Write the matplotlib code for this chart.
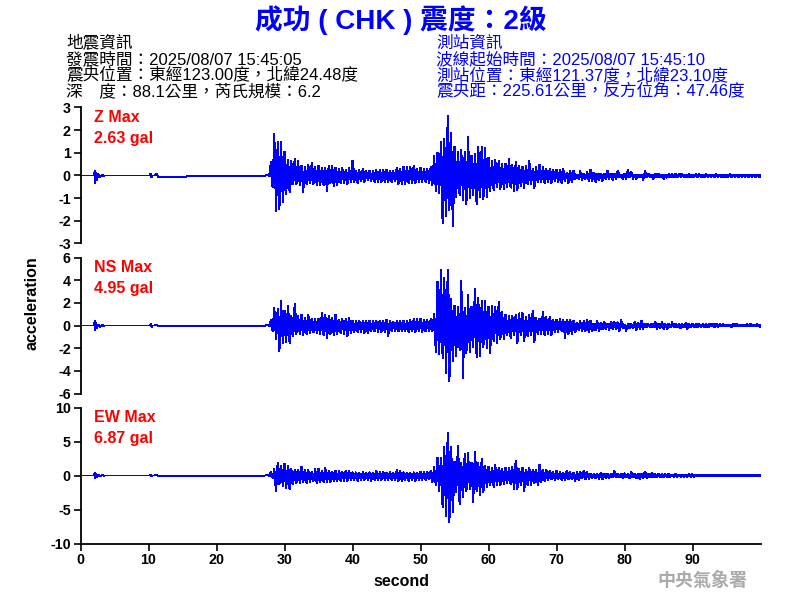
import matplotlib
matplotlib.use('Agg')
import matplotlib.pyplot as plt
import numpy as np

TEXT_FONT = ['Liberation Sans', 'Noto Sans CJK TC', 'DejaVu Sans']
plt.rcParams['font.family'] = TEXT_FONT
plt.rcParams['axes.unicode_minus'] = False

# the quiet part before the P wave, read by eye
early_t = [0, 1.9, 2.1, 2.25, 2.6, 3.3, 3.5, 10.0, 10.3, 10.6, 11.2, 27.0]
z_early_hi = [0, 0, 0.2, 0.15, 0.08, 0.05, 0, 0, 0.08, 0, 0.06, 0]
z_early_lo = [0, 0, -0.35, -0.2, -0.08, -0.05, 0, 0, -0.1, 0, -0.06, 0]
ns_early_hi = [0, 0, 0.4, 0.3, 0.1, 0.05, 0, 0, 0.12, 0, 0.05, 0]
ns_early_lo = [0, 0, -0.45, -0.25, -0.1, -0.05, 0, 0, -0.12, 0, -0.05, 0]
ew_early_hi = [0, 0, 0.4, 0.3, 0.1, 0.05, 0, 0, 0.08, 0, 0.04, 0]
ew_early_lo = [0, 0, -0.4, -0.25, -0.1, -0.05, 0, 0, -0.08, 0, -0.04, 0]

# envelope every 0.5 s from 27.5 s to 100 s, ten values per row
z_hi = [0.02, 0.6, 1.85, 1.5, 1.5, 1.05, 0.7, 0.65, 0.75, 0.65,
        0.45, 0.4, 0.5, 0.55, 0.4, 0.45, 0.35, 0.35, 0.45, 0.45,
        0.35, 0.3, 0.35, 0.25, 0.35, 0.65, 0.2, 0.25, 0.3, 0.2,
        0.2, 0.2, 0.25, 0.25, 0.25, 0.25, 0.2, 0.2, 0.35, 0.3,
        0.4, 0.4, 0.4, 0.45, 0.3, 0.35, 0.3, 0.3, 0.4, 0.9,
        1.0, 1.5, 1.65, 2.63, 1.9, 1.3, 1.05, 1.15, 1.05, 1.7,
        0.9, 0.95, 1.3, 1.3, 1.25, 0.8, 0.65, 0.7, 0.65, 0.55,
        0.55, 0.75, 0.5, 0.6, 0.45, 0.4, 0.45, 0.65, 0.3, 0.4,
        0.5, 0.4, 0.3, 0.3, 0.25, 0.25, 0.25, 0.3, 0.15, 0.2,
        0.2, 0.05, 0.2, 0.1, 0.15, 0.25, 0.15, 0.1, 0.1, 0.1,
        0.2, 0.1, 0.1, 0.2, 0.05, 0.1, 0.25, 0.15, 0.05, 0.05,
        0.05, 0.2, 0.1, 0.05, 0.1, 0.1, 0.05, 0.03, 0.07, 0.07,
        0.07, 0.1, 0.07, 0.05, 0.07, 0.05, 0.07, 0.07, 0.05, 0.07,
        0.05, 0.05, 0.07, 0.05, 0.05, 0.05, 0.07, 0.05, 0.05, 0.05,
        0.05, 0.05, 0.05, 0.05, 0.05, 0.05]
z_lo = [-0.02, -0.55, -1.6, -1.5, -1.2, -0.85, -0.75, -0.4, -0.4, -0.45,
        -0.75, -0.4, -0.35, -0.4, -0.45, -0.45, -0.45, -0.7, -0.35, -0.5,
        -0.45, -0.35, -0.35, -0.4, -0.3, -0.3, -0.35, -0.25, -0.3, -0.2,
        -0.25, -0.3, -0.3, -0.3, -0.3, -0.3, -0.3, -0.25, -0.4, -0.4,
        -0.4, -0.35, -0.35, -0.35, -0.3, -0.3, -0.3, -0.35, -0.45, -0.7,
        -0.8, -2.1, -1.8, -1.55, -2.25, -0.95, -0.9, -1.1, -1.3, -1.0,
        -0.9, -1.3, -0.95, -1.05, -0.95, -0.7, -0.65, -0.55, -0.6, -0.6,
        -0.55, -0.55, -0.7, -0.65, -0.5, -0.55, -0.4, -0.4, -0.55, -0.3,
        -0.3, -0.35, -0.3, -0.35, -0.25, -0.3, -0.35, -0.25, -0.35, -0.3,
        -0.15, -0.15, -0.2, -0.15, -0.25, -0.25, -0.3, -0.2, -0.25, -0.15,
        -0.15, -0.2, -0.15, -0.1, -0.15, -0.15, -0.1, -0.15, -0.15, -0.1,
        -0.2, -0.1, -0.1, -0.15, -0.1, -0.1, -0.15, -0.1, -0.1, -0.1,
        -0.1, -0.07, -0.1, -0.07, -0.1, -0.07, -0.07, -0.1, -0.07, -0.07,
        -0.07, -0.07, -0.07, -0.07, -0.1, -0.07, -0.07, -0.07, -0.07, -0.07,
        -0.07, -0.07, -0.07, -0.07, -0.07, -0.07]

ns_hi = [0.03, 0.5, 1.6, 1.5, 2.2, 1.35, 1.8, 0.9, 1.95, 0.85,
         0.95, 0.7, 1.0, 0.65, 0.6, 0.65, 1.15, 0.95, 0.9, 0.7,
         1.0, 0.5, 0.6, 0.65, 0.7, 0.45, 0.4, 0.45, 0.4, 0.45,
         0.45, 0.45, 0.45, 0.45, 0.4, 0.5, 0.4, 0.35, 0.4, 0.45,
         0.4, 0.45, 0.5, 0.6, 0.6, 0.6, 0.5, 0.5, 0.6, 1.05,
         3.9, 4.9, 4.2, 4.95, 2.4, 1.8, 1.7, 4.0, 1.6, 2.7,
         1.7, 3.3, 2.5, 2.2, 2.2, 1.7, 1.8, 1.7, 2.1, 1.2,
         1.0, 0.85, 0.9, 1.0, 1.1, 1.1, 0.8, 0.95, 1.3, 0.7,
         0.65, 1.25, 0.75, 0.8, 0.5, 0.5, 0.65, 0.5, 0.55, 0.5,
         0.45, 0.25, 0.4, 0.4, 0.5, 0.4, 0.2, 0.4, 0.25, 0.35,
         0.2, 0.35, 0.3, 0.3, 0.5, 0.1, 0.2, 0.15, 0.3, 0.25,
         0.4, 0.2, 0.15, 0.2, 0.35, 0.2, 0.3, 0.15, 0.2, 0.3,
         0.2, 0.15, 0.15, 0.25, 0.15, 0.15, 0.2, 0.15, 0.15, 0.15,
         0.2, 0.2, 0.2, 0.15, 0.15, 0.1, 0.1, 0.15, 0.15, 0.1,
         0.1, 0.15, 0.15, 0.1, 0.15, 0.1]
ns_lo = [-0.03, -0.5, -1.25, -2.3, -1.6, -1.5, -1.6, -0.95, -0.75, -0.8,
         -0.85, -0.8, -0.7, -0.65, -0.7, -0.75, -0.9, -1.15, -0.8, -0.85,
         -0.75, -0.7, -0.8, -0.95, -0.7, -0.6, -0.6, -0.6, -0.7, -0.7,
         -0.55, -0.55, -0.6, -0.6, -0.6, -0.95, -0.5, -0.5, -0.55, -0.55,
         -0.55, -0.6, -0.55, -0.6, -0.5, -0.6, -0.55, -0.55, -0.5, -2.4,
         -2.6, -2.9, -4.2, -4.95, -3.2, -2.7, -2.2, -4.7, -2.5, -2.4,
         -1.9, -2.8, -2.7, -1.9, -2.0, -2.5, -1.4, -1.6, -1.2, -1.2,
         -0.9, -1.1, -0.9, -1.55, -0.85, -1.45, -1.0, -0.9, -1.5, -0.8,
         -0.75, -0.9, -0.75, -0.85, -0.65, -0.6, -0.5, -1.1, -0.8, -0.75,
         -0.65, -0.4, -0.5, -0.5, -0.65, -0.55, -0.45, -0.5, -0.35, -0.35,
         -0.4, -0.3, -0.35, -0.5, -0.25, -0.5, -0.25, -0.25, -0.4, -0.3,
         -0.3, -0.2, -0.2, -0.2, -0.3, -0.25, -0.3, -0.35, -0.2, -0.2,
         -0.2, -0.25, -0.2, -0.3, -0.15, -0.2, -0.15, -0.15, -0.15, -0.2,
         -0.1, -0.15, -0.15, -0.1, -0.1, -0.1, -0.15, -0.1, -0.1, -0.1,
         -0.1, -0.1, -0.1, -0.1, -0.1, -0.1]

ew_hi = [0.05, 0.5, 1.0, 1.9, 1.4, 1.7, 1.5, 1.0, 0.9, 0.9,
         1.3, 0.8, 0.8, 0.6, 0.95, 1.0, 0.7, 1.1, 0.7, 0.6,
         0.7, 0.7, 0.6, 0.7, 0.7, 0.5, 0.5, 0.45, 0.5, 0.45,
         0.5, 0.45, 0.7, 0.5, 0.6, 0.4, 0.5, 0.4, 0.8, 0.7,
         0.5, 0.4, 0.4, 0.5, 0.4, 0.6, 0.5, 0.5, 0.7, 1.3,
         2.7, 2.6, 4.2, 6.3, 4.3, 2.0, 4.4, 1.9, 3.2, 3.4,
         1.9, 3.5, 1.9, 2.5, 1.5, 1.3, 1.1, 1.6, 1.2, 1.0,
         1.2, 1.2, 1.3, 2.2, 1.0, 1.2, 0.9, 1.2, 0.9, 0.8,
         1.6, 0.8, 0.9, 0.7, 0.5, 0.7, 0.5, 0.4, 0.7, 0.5,
         0.4, 0.5, 0.5, 0.7, 0.5, 0.3, 0.3, 0.25, 0.4, 0.3,
         0.3, 0.3, 0.7, 0.2, 0.3, 0.35, 0.3, 0.5, 0.3, 0.3,
         0.25, 0.6, 0.3, 0.4, 0.2, 0.25, 0.3, 0.2, 0.3, 0.15,
         0.25, 0.15, 0.15, 0.15, 0.2, 0.2, 0.15, 0.15, 0.1, 0.15,
         0.1, 0.1, 0.1, 0.1, 0.1, 0.1, 0.1, 0.1, 0.1, 0.1,
         0.1, 0.1, 0.05, 0.1, 0.05, 0.05]
ew_lo = [-0.05, -0.4, -2.4, -1.3, -1.6, -1.9, -2.1, -1.3, -1.2, -1.1,
         -1.0, -1.2, -1.0, -0.9, -1.2, -1.0, -1.0, -1.0, -1.0, -0.9,
         -0.8, -0.8, -0.8, -0.8, -0.7, -0.7, -0.8, -0.7, -0.7, -0.7,
         -0.8, -0.7, -0.7, -0.7, -0.7, -0.7, -0.7, -0.7, -0.8, -0.9,
         -0.7, -0.8, -0.7, -0.8, -0.7, -0.7, -0.7, -0.6, -1.0, -1.5,
         -2.3, -4.7, -6.0, -6.87, -5.4, -2.5, -4.3, -3.2, -2.4, -2.0,
         -4.0, -2.4, -3.0, -2.5, -1.7, -1.5, -1.7, -1.5, -1.5, -1.3,
         -1.2, -1.3, -2.0, -2.0, -1.5, -2.3, -1.5, -1.4, -1.1, -1.4,
         -1.0, -0.9, -0.7, -0.6, -0.7, -0.6, -0.7, -0.7, -0.6, -0.6,
         -0.8, -0.7, -0.4, -0.6, -0.5, -0.4, -0.4, -0.5, -0.6, -0.4,
         -0.4, -0.3, -0.3, -0.3, -0.4, -0.3, -0.4, -0.3, -0.4, -0.5,
         -0.4, -0.4, -0.3, -0.3, -0.3, -0.3, -0.3, -0.3, -0.2, -0.2,
         -0.2, -0.2, -0.2, -0.2, -0.2, -0.2, -0.15, -0.15, -0.15, -0.15,
         -0.1, -0.15, -0.1, -0.15, -0.1, -0.1, -0.1, -0.1, -0.1, -0.1,
         -0.1, -0.1, -0.1, -0.1, -0.1, -0.1]

panels = [
    ('Z Max', '2.63 gal', 3, [3, 2, 1, 0, -1, -2, -3], z_early_hi, z_early_lo, z_hi, z_lo),
    ('NS Max', '4.95 gal', 6, [6, 4, 2, 0, -2, -4, -6], ns_early_hi, ns_early_lo, ns_hi, ns_lo),
    ('EW Max', '6.87 gal', 10, [10, 5, 0, -5, -10], ew_early_hi, ew_early_lo, ew_hi, ew_lo),
]

x_ticks = [0, 10, 20, 30, 40, 50, 60, 70, 80, 90]
title_text = '成功 ( CHK ) 震度：2級'
quake_info = ['地震資訊',
              '發震時間：2025/08/07 15:45:05',
              '震央位置：東經123.00度，北緯24.48度',
              '深　度：88.1公里，芮氏規模：6.2']
station_info = ['測站資訊',
                '波線起始時間：2025/08/07 15:45:10',
                '測站位置：東經121.37度，北緯23.10度',
                '震央距：225.61公里，反方位角：47.46度']

BLUE = '#0000ff'
W, H = 800, 600


def zigzag(t_hi, hi, lo):
    # one up and one down for every envelope sample
    t_hi = np.asarray(t_hi, dtype=float)
    step = np.append(np.diff(t_hi), 0.5)
    tt = np.column_stack([t_hi, t_hi + np.minimum(step, 0.5) / 2]).ravel()
    yy = np.column_stack([hi, lo]).ravel()
    return np.minimum(tt, 99.9), yy


fig = plt.figure(figsize=(W / 100, H / 100), dpi=100, facecolor='white')

tops = [107, 257, 407]
active_t = 27.5 + 0.5 * np.arange(len(z_hi))

for i, (name, peak, lim, ticks, e_hi, e_lo, hi, lo) in enumerate(panels):
    top = tops[i]
    ax = fig.add_axes([80.5 / W, 1 - (top + 136.5) / H, 680 / W, 136 / H])
    t1, y1 = zigzag(early_t, e_hi, e_lo)
    t2, y2 = zigzag(active_t, hi, lo)
    ax.plot(np.r_[t1, t2], np.r_[y1, y2], color=BLUE, lw=0.72, antialiased=False,
            solid_joinstyle='miter', clip_on=False)
    # second pass fills in the solid core of the trace
    t3, y3 = zigzag(active_t + 0.125, np.array(hi) * 0.55, np.array(lo) * 0.55)
    ax.plot(t3, y3, color=BLUE, lw=0.72, antialiased=False, clip_on=False)
    ax.set_xlim(0, 100)
    ax.set_ylim(-lim, lim)
    ax.set_yticks(ticks)
    ax.tick_params(axis='y', length=5, width=1.2, pad=2, labelsize=10.3)
    for lab in ax.get_yticklabels():
        lab.set_fontweight('bold')
    for side in ['top', 'right']:
        ax.spines[side].set_visible(False)
    ax.spines['left'].set_linewidth(1.3)
    if i < 2:
        ax.spines['bottom'].set_visible(False)
        ax.set_xticks([])
    else:
        ax.spines['bottom'].set_linewidth(1.3)
        ax.set_xticks(x_ticks)
        ax.tick_params(axis='x', length=5, width=1.2, pad=1.5, labelsize=10.3)
        for lab in ax.get_xticklabels():
            lab.set_fontweight('bold')
    fig.text(94 / W, 1 - (top + 11) / H, name, color='#ff0000', fontsize=11.5,
             fontweight='bold', va='center')
    fig.text(94 / W, 1 - (top + 31) / H, peak, color='#ff0000', fontsize=11.5,
             fontweight='bold', va='center')

fig.text(401 / W, 1 - 20 / H, title_text, color=BLUE, fontsize=20, fontweight='bold',
         ha='center', va='center')

for k, line in enumerate(quake_info):
    fig.text(66 / W, 1 - (43 + 16.2 * k) / H, line, color='black', fontsize=12,
             va='center')
for k, line in enumerate(station_info):
    fig.text(436 / W, 1 - (43 + 16.2 * k) / H, line, color=BLUE, fontsize=12,
             va='center')

fig.text(32 / W, 1 - 303 / H, 'acceleration', rotation=90, fontsize=11.5, fontweight='bold',
         ha='center', va='center')
fig.text(401 / W, 1 - 581 / H, 'second', fontsize=11.5, fontweight='bold', ha='center', va='center')
fig.text(702 / W, 1 - 581 / H, '中央氣象署', color='#aaaaaa', fontsize=13, fontweight='bold',
         ha='center', va='center')

fig.savefig('out.png', dpi=100, facecolor='white')
